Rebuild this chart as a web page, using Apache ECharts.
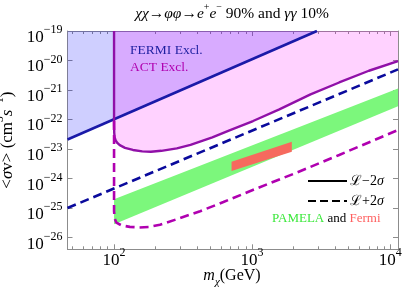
<!DOCTYPE html>
<html><head><meta charset="utf-8">
<script src="https://cdn.jsdelivr.net/npm/echarts@6/dist/echarts.min.js"></script>
<style>html,body{margin:0;padding:0;background:#fff}#c{width:403px;height:287px}</style>
</head><body><div id="c"></div>
<script>
// ---------- data ----------
const xRange = [46, 11400];            // GeV
const yRange = [4e-27, 1e-19];         // cm^3 s^-1
const xMajorExp = [2, 3, 4];
const xMinorTicks = [50,60,70,80,90,200,300,400,500,600,700,800,900,2000,3000,4000,5000,6000,7000,8000,9000];
const yMajorExp = [-26, -25, -24, -23, -22, -21, -20, -19];

// FERMI excluded (L-2σ, solid) and L+2σ (dashed)
const fermiMass = [46, 2950];
const fermiSigma = [2.1e-23, 1e-19];
const fermiDashMass = [46, 11400];
const fermiDashSigma = [1.0e-25, 5.0e-21];

// ACT excluded (L-2σ, solid)
const actMass  = [100, 100, 100.3, 101, 103, 106, 110, 120, 137, 160, 185, 220, 285, 358, 515, 693, 1016, 1575, 2650, 4275, 7015, 11400];
const actSigma = [1e-19, 6.3e-23, 3.55e-23, 2.5e-23, 1.9e-23, 1.58e-23, 1.35e-23, 1.1e-23, 9.3e-24, 8.3e-24, 8.1e-24, 8.7e-24, 1.05e-23, 1.38e-23, 2.5e-23, 4.4e-23, 8.9e-23, 2.2e-22, 7.1e-22, 1.8e-21, 4.5e-21, 9.5e-21];
// ACT L+2σ (dashed)
const actDashMass  = [100, 100, 101, 104, 113, 130, 153, 180, 215, 285, 420, 620, 1052, 2113, 4275, 11400];
const actDashSigma = [8.9e-23, 7.9e-26, 4.5e-26, 3.2e-26, 2.6e-26, 2.3e-26, 2.2e-26, 2.3e-26, 2.7e-26, 4.2e-26, 7.8e-26, 1.6e-25, 4.4e-25, 1.6e-24, 6.3e-24, 4.4e-23];

// PAMELA band (polygon) and Fermi box (polygon)
const pamelaMass  = [100, 11400, 11400, 100];
const pamelaSigma = [2.0e-25, 1.12e-21, 2.8e-22, 2.8e-26];
const fermiFitMass  = [710, 1940, 1940, 710];
const fermiFitSigma = [3.7e-24, 1.78e-23, 8.1e-24, 1.8e-24];

// ---------- chart ----------
const L = Math.log10;
const pts = (xs, ys) => xs.map((x, i) => [L(x), L(ys[i])]);
const SERIF = 'Liberation Serif';
const tickRich = {
  b: {fontFamily: SERIF, fontSize: 17, color: '#000', lineHeight: 22, verticalAlign: 'bottom'},
  s: {fontFamily: SERIF, fontSize: 12, color: '#000', lineHeight: 22, verticalAlign: 'top'}
};
const expFmt = v => '{b|10}{s|' + String(Math.round(v)).replace('-', '\u2212') + '}';

function polygonSeries(name, data, color, z) {
  return {
    type: 'custom', name, z, xAxisIndex: 0, yAxisIndex: 0, silent: true,
    data,
    renderItem: (params, api) => {
      if (params.dataIndex !== 0) return null;
      return {type: 'polygon', shape: {points: data.map(d => api.coord(d))}, style: {fill: color}};
    }
  };
}

const frameColor = '#8c8c8c';
const baseX = {
  type: 'value', min: L(xRange[0]), max: L(xRange[1]), splitLine: {show: false},
  axisLine: {show: true, lineStyle: {color: frameColor, width: 1}},
};
const baseY = {
  type: 'value', min: L(yRange[0]), max: L(yRange[1]), splitLine: {show: false},
  axisLine: {show: true, lineStyle: {color: frameColor, width: 1}},
};

const option = {
  animation: false,
  grid: {left: 67.5, right: 5, top: 31, bottom: 37.7, containLabel: false, outerBoundsMode: 'none'},
  xAxis: [
    Object.assign({}, baseX, {position: 'bottom',
      axisTick: {show: true, inside: true, length: 5, customValues: xMajorExp, lineStyle: {color: frameColor}},
      axisLabel: {show: true, customValues: xMajorExp, formatter: expFmt, rich: tickRich, margin: -2}
    }),
    Object.assign({}, baseX, {position: 'bottom', axisLine: {show: false},
      axisTick: {show: true, inside: true, length: 3, customValues: xMinorTicks.map(L), lineStyle: {color: frameColor}},
      axisLabel: {show: false}}),
    Object.assign({}, baseX, {position: 'top',
      axisTick: {show: true, inside: true, length: 5, customValues: xMajorExp, lineStyle: {color: frameColor}},
      axisLabel: {show: false}}),
    Object.assign({}, baseX, {position: 'top', axisLine: {show: false},
      axisTick: {show: true, inside: true, length: 3, customValues: xMinorTicks.map(L), lineStyle: {color: frameColor}},
      axisLabel: {show: false}})
  ],
  yAxis: [
    Object.assign({}, baseY, {position: 'left',
      axisTick: {show: true, inside: true, length: 5, customValues: yMajorExp, lineStyle: {color: frameColor}},
      axisLabel: {show: true, customValues: yMajorExp, formatter: expFmt, rich: tickRich, margin: 5, padding: [8, 0, 0, 0]},
      name: '{n|<}{i|\u03c3}{n|v> (cm}{s|3}{i|s}{s|\u22121}{n|)}', nameLocation: 'middle', nameGap: 40, nameRotate: 90,
      nameTextStyle: {rich: {
        n: {fontFamily: SERIF, fontSize: 17, color: '#000', lineHeight: 22, verticalAlign: 'bottom'},
        i: {fontFamily: SERIF, fontStyle: 'italic', fontSize: 17, color: '#000', lineHeight: 22, verticalAlign: 'bottom'},
        s: {fontFamily: SERIF, fontSize: 11.5, color: '#000', lineHeight: 22, verticalAlign: 'top'}
      }}
    }),
    Object.assign({}, baseY, {position: 'right',
      axisTick: {show: true, inside: true, length: 5, customValues: yMajorExp, lineStyle: {color: frameColor}},
      axisLabel: {show: false}})
  ],
  series: [
    {type: 'line', name: 'FERMI Excl.', data: pts(fermiMass, fermiSigma), showSymbol: false, z: 2,
      lineStyle: {color: '#1a1aa8', width: 2.6}, areaStyle: {origin: 'end', color: 'rgba(0,0,255,0.27)'}},
    {type: 'line', name: 'ACT Excl.', data: pts(actMass, actSigma), showSymbol: false, z: 2,
      lineStyle: {color: '#9010a8', width: 2.4}, areaStyle: {origin: 'end', color: 'rgba(255,0,255,0.25)'}},
    polygonSeries('PAMELA', pts(pamelaMass, pamelaSigma), '#7cf77c', 3),
    polygonSeries('Fermi', pts(fermiFitMass, fermiFitSigma), '#f66a5e', 3),
    {type: 'line', name: 'FERMI L+2σ', data: pts(fermiDashMass, fermiDashSigma), showSymbol: false, z: 4,
      lineStyle: {color: '#0a0a9c', width: 2.6, type: [9, 5]}},
    {type: 'line', name: 'ACT L+2σ', data: pts(actDashMass, actDashSigma), showSymbol: false, z: 4,
      lineStyle: {color: '#b000b0', width: 2.6, type: [9, 5]}}
  ],
  graphic: [
    {type: 'text', x: 232, y: 12, z: 10, style: {
      text: '{i|\u03c7\u03c7}{n|\u2192}{i|\u03c6\u03c6}{n|\u2192}{i|e}{s|+}{i|e}{s|\u2212}{n| 90% and }{i|\u03b3\u03b3}{n| 10%}',
      textAlign: 'center', textVerticalAlign: 'middle',
      rich: {
        n: {fontFamily: SERIF, fontSize: 15.5, fill: '#000', lineHeight: 20, verticalAlign: 'bottom'},
        i: {fontFamily: SERIF, fontStyle: 'italic', fontSize: 15.5, fill: '#000', lineHeight: 20, verticalAlign: 'bottom'},
        s: {fontFamily: SERIF, fontSize: 10, fill: '#000', lineHeight: 20, verticalAlign: 'top'}
      }}},
    {type: 'text', x: 232, y: 278, z: 10, style: {
      text: '{i|m}{c|\u03c7}{n|(GeV)}',
      textAlign: 'center', textVerticalAlign: 'middle',
      rich: {
        i: {fontFamily: SERIF, fontStyle: 'italic', fontSize: 16, fill: '#000', lineHeight: 20, verticalAlign: 'top'},
        c: {fontFamily: SERIF, fontStyle: 'italic', fontSize: 11, fill: '#000', lineHeight: 20, verticalAlign: 'bottom'},
        n: {fontFamily: SERIF, fontSize: 16, fill: '#000', lineHeight: 20, verticalAlign: 'top'}
      }}},
    {type: 'text', x: 130, y: 50, z: 10, style: {text: 'FERMI Excl.', fontFamily: SERIF, fontSize: 13.5, fill: '#1f1fa0', textVerticalAlign: 'middle'}},
    {type: 'text', x: 130, y: 67, z: 10, style: {text: 'ACT Excl.', fontFamily: SERIF, fontSize: 13.5, fill: '#b000b0', textVerticalAlign: 'middle'}},
    {type: 'line', z: 10, shape: {x1: 308, y1: 181, x2: 347, y2: 181}, style: {stroke: '#000', lineWidth: 2}},
    {type: 'line', z: 10, shape: {x1: 308, y1: 201, x2: 347, y2: 201}, style: {stroke: '#000', lineWidth: 2, lineDash: [8, 4]}},
    {type: 'text', x: 350, y: 181, z: 10, style: {text: '\u2112\u22122{i|\u03c3}', fontFamily: SERIF, fontSize: 14, fill: '#000', textVerticalAlign: 'middle',
      rich: {i: {fontFamily: SERIF, fontStyle: 'italic', fontSize: 14, fill: '#000'}}}},
    {type: 'text', x: 350, y: 201, z: 10, style: {text: '\u2112+2{i|\u03c3}', fontFamily: SERIF, fontSize: 14, fill: '#000', textVerticalAlign: 'middle',
      rich: {i: {fontFamily: SERIF, fontStyle: 'italic', fontSize: 14, fill: '#000'}}}},
    {type: 'text', x: 272, y: 219, z: 10, style: {text: '{g|PAMELA}{k| and }{r|Fermi}', textVerticalAlign: 'middle',
      rich: {
        g: {fontFamily: SERIF, fontSize: 13, fill: '#3be83b'},
        k: {fontFamily: SERIF, fontSize: 13, fill: '#000'},
        r: {fontFamily: SERIF, fontSize: 13, fill: '#ff5f5f'}
      }}}
  ]
};
const chart = echarts.init(document.getElementById('c'), null, {renderer: 'canvas'});
chart.setOption(option);
</script>
</body></html>
